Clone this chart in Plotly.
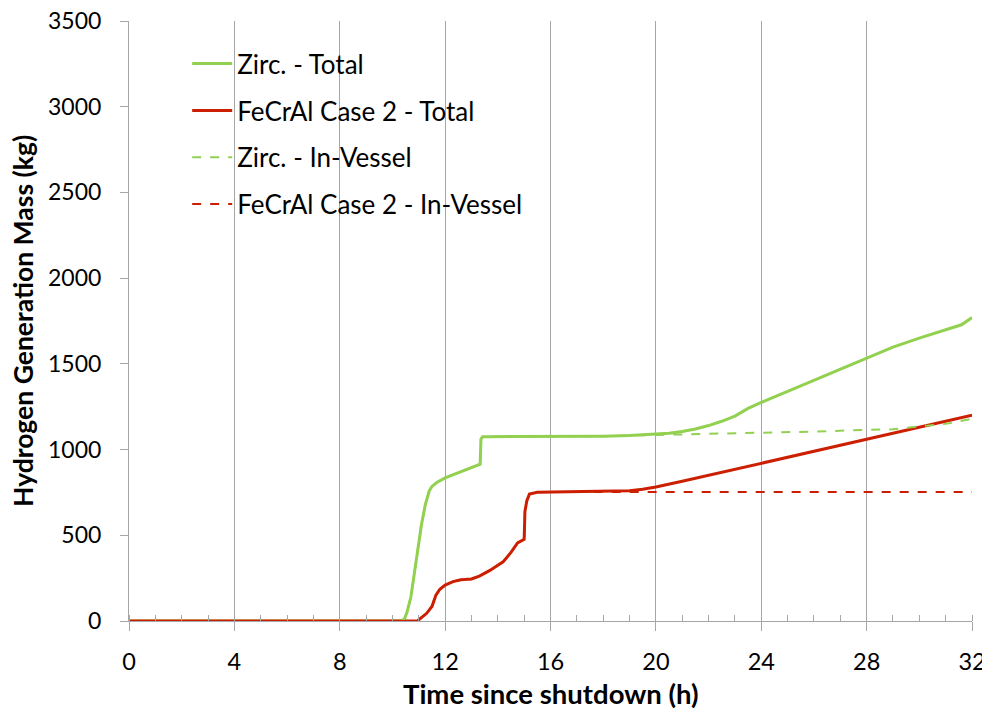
import plotly.graph_objects as go

# ---- data ----
zirc_total_t = [0, 10.3, 10.45, 10.55, 10.7, 10.8, 10.95, 11.1, 11.25, 11.4, 11.5, 11.7, 12.0, 12.5, 13.0, 13.33,
                13.36, 13.42, 13.6, 14, 16, 18, 19, 20, 20.5, 21, 21.5, 22, 22.5, 23, 23.5, 24, 25, 26, 27, 28,
                29, 30, 31, 31.6, 32]
zirc_total_y = [0, 0, 10, 50, 140, 240, 400, 560, 680, 760, 785, 810, 835, 865, 895, 915,
                1060, 1075, 1075, 1075, 1075, 1078, 1082, 1088, 1095, 1105, 1120, 1140, 1165, 1195, 1240, 1275,
                1340, 1405, 1470, 1535, 1598, 1650, 1700, 1728, 1770]

zirc_vessel_t = [0, 10.3, 10.45, 10.55, 10.7, 10.8, 10.95, 11.1, 11.25, 11.4, 11.5, 11.7, 12.0, 12.5, 13.0, 13.33,
                 13.36, 13.42, 13.6, 14, 16, 18, 19, 20, 21, 22, 24, 26, 28, 29, 30, 31, 32]
zirc_vessel_y = [0, 0, 10, 50, 140, 240, 400, 560, 680, 760, 785, 810, 835, 865, 895, 915,
                 1060, 1075, 1075, 1075, 1075, 1078, 1082, 1085, 1088, 1090, 1095, 1105, 1115, 1118, 1135, 1150, 1180]

fecral_total_t = [0, 10.95, 11.1, 11.3, 11.5, 11.65, 11.8, 12.0, 12.3, 12.6, 13.0, 13.3, 13.7, 14.2, 14.5, 14.75,
                  15.0, 15.03, 15.1, 15.2, 15.5, 16, 18, 19, 19.5, 20, 21, 22, 23, 24, 25, 26, 27, 28, 29, 30, 31, 32]
fecral_total_y = [0, 0, 20, 45, 85, 150, 185, 210, 230, 240, 245, 262, 295, 345, 400, 455,
                  476, 640, 700, 740, 751, 752, 755, 760, 768, 782, 815, 850, 885, 922, 957, 993, 1028, 1062,
                  1097, 1130, 1165, 1200]

fecral_vessel_t = [0, 10.95, 11.1, 11.3, 11.5, 11.65, 11.8, 12.0, 12.3, 12.6, 13.0, 13.3, 13.7, 14.2, 14.5, 14.75,
                   15.0, 15.03, 15.1, 15.2, 15.5, 16, 32]
fecral_vessel_y = [0, 0, 20, 45, 85, 150, 185, 210, 230, 240, 245, 262, 295, 345, 400, 455,
                   476, 640, 700, 740, 751, 752, 752]

x_ticks = [0, 4, 8, 12, 16, 20, 24, 28, 32]
y_ticks = [0, 500, 1000, 1500, 2000, 2500, 3000, 3500]

GREEN = "#92D050"
RED = "#CC1F00"
AXIS_GREY = "#A6A6A6"
FONT = "Lato"

fig = go.Figure()
fig.add_trace(go.Scatter(x=zirc_total_t, y=zirc_total_y, mode="lines", name="Zirc. - Total",
                         legendgroup="a", line=dict(color=GREEN, width=3)))
fig.add_trace(go.Scatter(x=fecral_total_t, y=fecral_total_y, mode="lines", name="FeCrAl Case 2 - Total",
                         legendgroup="b", line=dict(color=RED, width=3)))
fig.add_trace(go.Scatter(x=zirc_vessel_t, y=zirc_vessel_y, mode="lines", name="Zirc. - In-Vessel",
                         legendgroup="c", line=dict(color=GREEN, width=2, dash="dash")))
fig.add_trace(go.Scatter(x=fecral_vessel_t, y=fecral_vessel_y, mode="lines", name="FeCrAl Case 2 - In-Vessel",
                         legendgroup="d", line=dict(color=RED, width=2, dash="dash")))

fig.update_layout(
    width=990, height=710,
    margin=dict(l=121, r=26, t=13, b=97, autoexpand=False),
    paper_bgcolor="white", plot_bgcolor="white",
    font=dict(family=FONT, size=23, color="black"),
    legend=dict(x=0.069, y=0.968, xanchor="left", yanchor="top", bgcolor="rgba(0,0,0,0)",
                font=dict(size=26), tracegroupgap=10, itemwidth=40),
    showlegend=True,
    annotations=[
        dict(text="<b>Time since shutdown (h)</b>", xref="paper", yref="paper", x=0.5, y=0,
             xanchor="center", yanchor="middle", yshift=-72, showarrow=False,
             font=dict(family=FONT, size=27.5, color="black")),
        dict(text="<b>Hydrogen Generation Mass (kg)</b>", xref="paper", yref="paper", x=0, y=0.5,
             xanchor="center", yanchor="middle", xshift=-106, textangle=-90, showarrow=False,
             font=dict(family=FONT, size=26.5, color="black")),
    ],
)
fig.update_xaxes(
    range=[0, 32], tickvals=x_ticks, ticktext=[str(v) for v in x_ticks],
    showgrid=True, gridcolor=AXIS_GREY, gridwidth=1,
    showline=True, linecolor=AXIS_GREY, linewidth=1,
    ticks="outside", ticklen=9, tickcolor=AXIS_GREY,
    minor=dict(dtick=1, ticks="inside", ticklen=6, tickcolor=AXIS_GREY, showgrid=False),
    zeroline=False, automargin=False, ticklabelstandoff=11, ticklabeloverflow="allow",
    tickfont=dict(size=23.5),
)
fig.update_yaxes(
    range=[0, 3500], tickvals=y_ticks, ticktext=[str(v) for v in y_ticks],
    showgrid=False, showline=True, linecolor=AXIS_GREY, linewidth=1,
    ticks="outside", ticklen=8, tickcolor=AXIS_GREY,
    zeroline=False, automargin=False, ticklabelstandoff=14, ticklabeloverflow="allow",
    tickfont=dict(size=23),
)

fig.write_html("out.html")
